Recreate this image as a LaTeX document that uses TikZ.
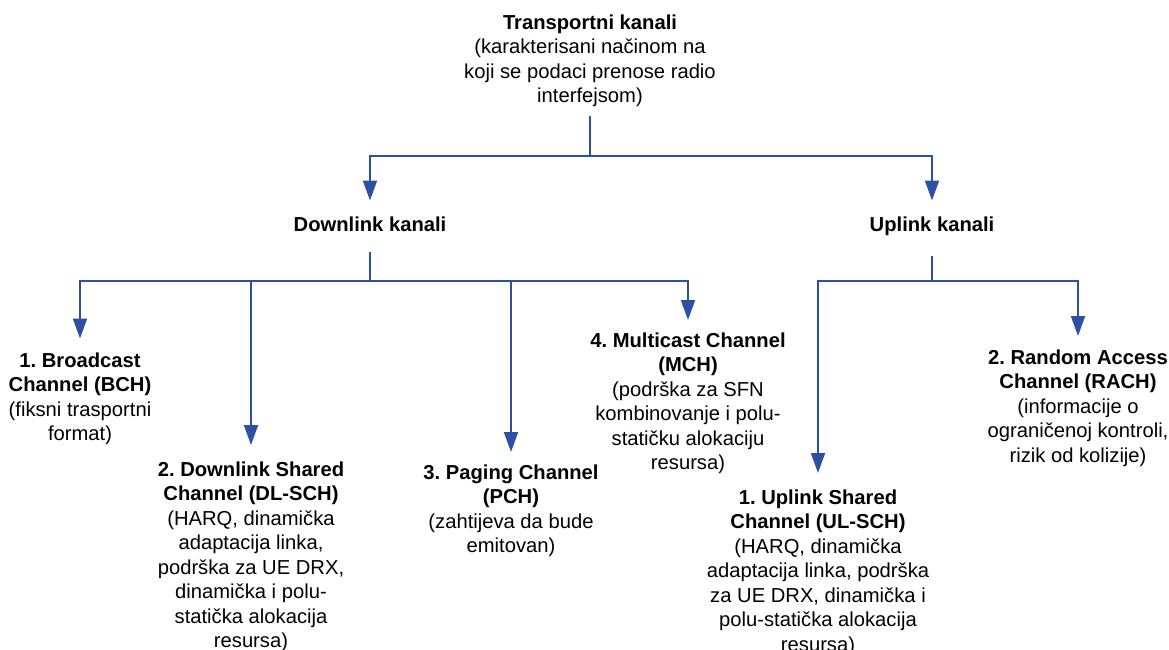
\documentclass[tikz,border=0pt]{standalone}
\usepackage{fontspec}
\setmainfont{Liberation Sans}
\usetikzlibrary{arrows.meta}
\definecolor{linkblue}{RGB}{46,80,164}
\frenchspacing
\begin{document}
\begin{tikzpicture}[x=1pt,y=-1pt,
  every node/.style={inner sep=0pt,outer sep=0pt,align=center,
    font=\fontsize{20.2}{24.5}\selectfont},
  chan/.style={anchor=north},
  link/.style={draw=linkblue,line width=2pt},
  arr/.style={link,-{Triangle[width=14pt,length=20pt]}}]
\useasboundingbox (0,0) rectangle (1169,650);

% root
\node[chan] (top) at (590,14.5) {\textbf{Transportni kanali}\\(karakterisani načinom na\\koji se podaci prenose radio\\interfejsom)};

% second level
\node[chan] (down) at (370,216.5) {\textbf{Downlink kanali}};
\node[chan] (up) at (932,216.5) {\textbf{Uplink kanali}};

% downlink channels
\node[chan] (bch) at (80,352.5) {\textbf{1. Broadcast}\\\textbf{Channel (BCH)}\\(fiksni trasportni\\format)};
\node[chan] (dlsch) at (251,461.5) {\textbf{2. Downlink Shared}\\\textbf{Channel (DL-SCH)}\\(HARQ, dinamička\\adaptacija linka,\\podrška za UE DRX,\\dinamička i polu-\\statička alokacija\\resursa)};
\node[chan] (pch) at (511,464.5) {\textbf{3. Paging Channel}\\\textbf{(PCH)}\\(zahtijeva da bude\\emitovan)};
\node[chan] (mch) at (688,332.5) {\textbf{4. Multicast Channel}\\\textbf{(MCH)}\\(podrška za SFN\\kombinovanje i polu-\\statičku alokaciju\\resursa)};

% uplink channels
\node[chan] (ulsch) at (818,489.5) {\textbf{1. Uplink Shared}\\\textbf{Channel (UL-SCH)}\\(HARQ, dinamička\\adaptacija linka, podrška\\za UE DRX, dinamička i\\polu-statička alokacija\\resursa)};
\node[chan] (rach) at (1078,349.5) {\textbf{2. Random Access}\\\textbf{Channel (RACH)}\\(informacije o\\ograničenoj kontroli,\\rizik od kolizije)};

% branching points
\coordinate (hubT) at (590,156);
\coordinate (hubD) at (370,281);
\coordinate (hubU) at (932,281);

% root to second level
\draw[link,shorten <=9pt] (top.south) -- (hubT);
\draw[arr,shorten >=16pt] (hubT) -| (down.north);
\draw[arr,shorten >=16pt] (hubT) -| (up.north);

% downlink branch
\draw[link,shorten <=21pt] (down.south) -- (hubD);
\draw[arr,shorten >=14pt] (hubD) -| (bch.north);
\draw[arr,shorten >=16.5pt] (hubD) -| (dlsch.north);
\draw[arr,shorten >=12.5pt] (hubD) -| (pch.north);
\draw[arr,shorten >=12.5pt] (hubD) -| (mch.north);

% uplink branch
\draw[link,shorten <=21pt] (up.south) -- (hubU);
\draw[arr,shorten >=16.5pt] (hubU) -| (ulsch.north);
\draw[arr,shorten >=13.5pt] (hubU) -| (rach.north);
\end{tikzpicture}
\end{document}
